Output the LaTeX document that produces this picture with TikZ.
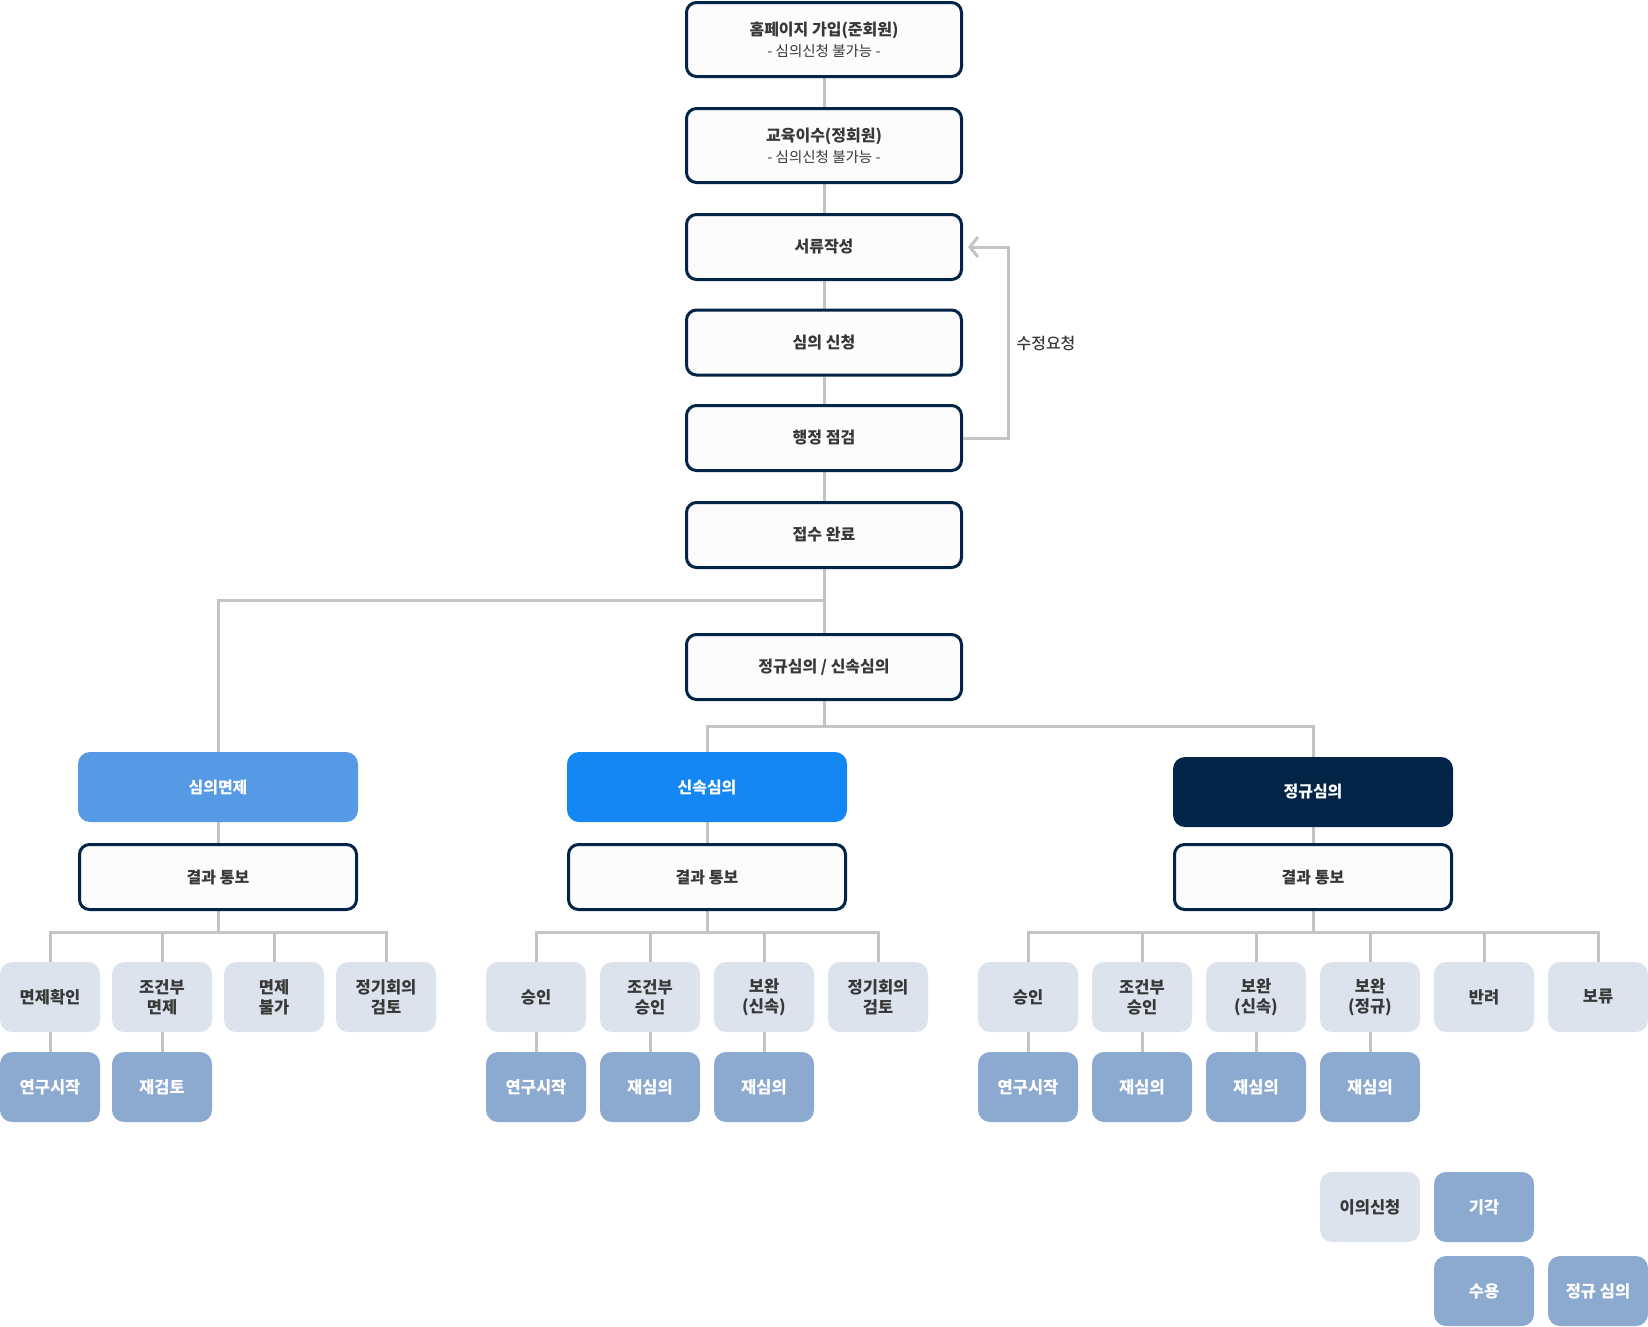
\documentclass[tikz,border=0pt]{standalone}
\usepackage{fontspec}
\setmainfont{Noto Sans CJK KR}
\IfFontExistsTF{Noto Sans CJK KR Medium}
  {\newfontfamily\medfont{Noto Sans CJK KR Medium}}
  {\newcommand\medfont{\mdseries}}
\usetikzlibrary{arrows.meta,backgrounds}
\definecolor{navy}{HTML}{022447}
\definecolor{conncol}{HTML}{C4C4C4}
\definecolor{lightleaf}{HTML}{DCE3ED}
\definecolor{darkleaf}{HTML}{8CAAD0}
\definecolor{skyblue}{HTML}{5699E5}
\definecolor{brightblue}{HTML}{1487F5}
\definecolor{txt}{HTML}{383838}
\definecolor{boxfill}{HTML}{FCFCFC}
\tikzset{
  flowbox/.style={draw=navy, line width=3pt, fill=boxfill, rounded corners=10pt,
    minimum width=275pt, minimum height=65pt, inner sep=0pt, text=txt,
    font=\fontsize{16}{20}\selectfont\bfseries, align=center},
  tallbox/.style={flowbox, minimum height=74pt},
  headbox/.style={rounded corners=12pt, minimum width=280pt, minimum height=70pt,
    inner sep=0pt, text=white, font=\fontsize{16}{20}\selectfont\bfseries, align=center},
  leafbox/.style={rounded corners=12pt, fill=lightleaf, minimum width=100pt,
    minimum height=70pt, inner sep=0pt, text=txt,
    font=\fontsize{16.5}{20}\selectfont\bfseries, align=center},
  dleafbox/.style={leafbox, fill=darkleaf, text=white},
  conn/.style={draw=conncol, line width=3pt}
}
\begin{document}
\begin{tikzpicture}[x=1pt,y=-1pt]
\useasboundingbox (0,0) rectangle (1648,1326);

% main column
\node[tallbox] (n1) at (824,39.5) {홈페이지 가입(준회원)\\[1pt]{\fontsize{14.5}{17}\selectfont\mdseries - 심의신청 불가능 -}};
\node[tallbox] (n2) at (824,145.5) {교육이수(정회원)\\[1pt]{\fontsize{14.5}{17}\selectfont\mdseries - 심의신청 불가능 -}};
\node[flowbox] (n3) at (824,247) {서류작성};
\node[flowbox] (n4) at (824,342.5) {심의 신청};
\node[flowbox] (n5) at (824,438) {행정 점검};
\node[flowbox] (n6) at (824,535) {접수 완료};
\node[flowbox] (n7) at (824,667) {정규심의 / 신속심의};
\node[text=txt, font=\fontsize{16}{18}\selectfont\medfont] (fix) at (1046,343) {수정요청};

% branch heads
\node[headbox, fill=skyblue] (hL) at (218,787) {심의면제};
\node[headbox, fill=brightblue] (hM) at (707,787) {신속심의};
\node[headbox, fill=navy] (hR) at (1313,792) {정규심의};

\node[flowbox, minimum width=277pt] (rL) at (218,877) {결과 통보};
\node[flowbox, minimum width=277pt] (rM) at (707,877) {결과 통보};
\node[flowbox, minimum width=277pt] (rR) at (1313,877) {결과 통보};

% left leaves
\node[leafbox] (L1) at (50,997) {면제확인};
\node[leafbox] (L2) at (162,997) {조건부\\면제};
\node[leafbox] (L3) at (274,997) {면제\\불가};
\node[leafbox] (L4) at (386,997) {정기회의\\검토};
\node[dleafbox] (L1b) at (50,1087) {연구시작};
\node[dleafbox] (L2b) at (162,1087) {재검토};

% middle leaves
\node[leafbox] (M1) at (536,997) {승인};
\node[leafbox] (M2) at (650,997) {조건부\\승인};
\node[leafbox] (M3) at (764,997) {보완\\(신속)};
\node[leafbox] (M4) at (878,997) {정기회의\\검토};
\node[dleafbox] (M1b) at (536,1087) {연구시작};
\node[dleafbox] (M2b) at (650,1087) {재심의};
\node[dleafbox] (M3b) at (764,1087) {재심의};

% right leaves
\node[leafbox] (R1) at (1028,997) {승인};
\node[leafbox] (R2) at (1142,997) {조건부\\승인};
\node[leafbox] (R3) at (1256,997) {보완\\(신속)};
\node[leafbox] (R4) at (1370,997) {보완\\(정규)};
\node[leafbox] (R5) at (1484,997) {반려};
\node[leafbox] (R6) at (1598,997) {보류};
\node[dleafbox] (R1b) at (1028,1087) {연구시작};
\node[dleafbox] (R2b) at (1142,1087) {재심의};
\node[dleafbox] (R3b) at (1256,1087) {재심의};
\node[dleafbox] (R4b) at (1370,1087) {재심의};

% appeal group
\node[leafbox] (A1) at (1370,1207) {이의신청};
\node[dleafbox] (A2) at (1484,1207) {기각};
\node[dleafbox] (A3) at (1484,1291) {수용};
\node[dleafbox] (A4) at (1598,1291) {정규 심의};

\coordinate (j1) at (824,600);
\coordinate (j2) at (824,726);
\coordinate (bL) at (218,932);
\coordinate (bM) at (707,932);
\coordinate (bR) at (1313,932);

\begin{scope}[on background layer]
\draw[conn] (n1) -- (n2);
\draw[conn] (n2) -- (n3);
\draw[conn] (n3) -- (n4);
\draw[conn] (n4) -- (n5);
\draw[conn] (n5) -- (n6);
\draw[conn] (n6) -- (n7);
\draw[conn] (hL.north) |- (j1);
\draw[conn] (n7.south) -- (j2);
\draw[conn] (hM.north) |- (j2);
\draw[conn] (hR.north) |- (j2);
\draw[conn] (hL) -- (rL);
\draw[conn] (hM) -- (rM);
\draw[conn] (hR) -- (rR);
\draw[conn] (rL.south) -- (bL);
\draw[conn] (rM.south) -- (bM);
\draw[conn] (rR.south) -- (bR);
\foreach \n in {L1,L2,L3,L4} \draw[conn] (\n.north) |- (bL);
\foreach \n in {M1,M2,M3,M4} \draw[conn] (\n.north) |- (bM);
\foreach \n in {R1,R2,R3,R4,R5,R6} \draw[conn] (\n.north) |- (bR);
\draw[conn] (L1) -- (L1b);
\draw[conn] (L2) -- (L2b);
\draw[conn] (M1) -- (M1b);
\draw[conn] (M2) -- (M2b);
\draw[conn] (M3) -- (M3b);
\draw[conn] (R1) -- (R1b);
\draw[conn] (R2) -- (R2b);
\draw[conn] (R3) -- (R3b);
\draw[conn] (R4) -- (R4b);
\end{scope}

% feedback arrow
\draw[conn, -{Straight Barb[length=8pt,width=20pt,line width=3pt]}]
  (n5.east) -- ++(45.5,0) |- ([xshift=5pt]n3.east);
\end{tikzpicture}
\end{document}
